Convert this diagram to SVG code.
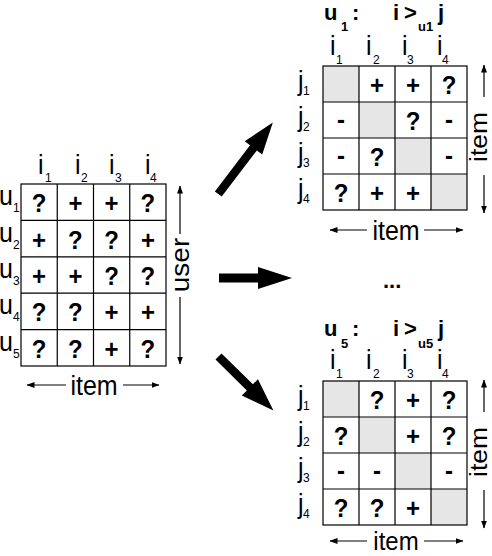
<svg xmlns="http://www.w3.org/2000/svg" width="492" height="556" viewBox="0 0 492 556">
<defs>
<marker id="ah" viewBox="0 0 8 6" refX="7.5" refY="3" markerWidth="8" markerHeight="6" markerUnits="userSpaceOnUse" orient="auto-start-reverse">
<path d="M0,0 L8,3 L0,6 z" fill="#000"/>
</marker>
</defs>
<style>
text{font-family:"Liberation Sans",Arial,Helvetica,sans-serif;fill:#000}
.lb{font-size:25px}
.sb{font-size:12px}
.sy{font-size:24px;font-weight:bold;text-anchor:middle}
.ti{font-size:22px;font-weight:bold}
.ts{font-size:13px;font-weight:bold}
.mid{text-anchor:middle}
.rv{font-size:24px;text-anchor:middle}
.gl{stroke:#000;stroke-width:1.2;fill:none}
.dim{stroke:#000;stroke-width:1.2;fill:none}
.gr{fill:#e6e6e6}
</style>
<rect width="492" height="556" fill="#fff"/>

<!-- Left user-item matrix -->
<g id="user-item-matrix">
<rect class="gl" x="21" y="184" width="145" height="182" fill="#fff"/>
<path class="gl" d="M57.25,184V366M93.5,184V366M129.75,184V366M21,220.4H166M21,256.8H166M21,293.2H166M21,329.6H166"/>
<text class="lb" transform="translate(38,174) scale(1,1.1)">i</text><text class="sb" x="45" y="182">1</text>
<text class="lb" transform="translate(75,174) scale(1,1.1)">i</text><text class="sb" x="81" y="182">2</text>
<text class="lb" transform="translate(109,174) scale(1,1.1)">i</text><text class="sb" x="115" y="182">3</text>
<text class="lb" transform="translate(145,174) scale(1,1.1)">i</text><text class="sb" x="150" y="182">4</text>
<text class="lb" transform="translate(-1,205) scale(1,1.1)">u</text><text class="sb" x="13" y="212">1</text>
<text class="lb" transform="translate(-1,242) scale(1,1.1)">u</text><text class="sb" x="13" y="249">2</text>
<text class="lb" transform="translate(-1,278) scale(1,1.1)">u</text><text class="sb" x="13" y="285">3</text>
<text class="lb" transform="translate(-1,314) scale(1,1.1)">u</text><text class="sb" x="13" y="321">4</text>
<text class="lb" transform="translate(-1,351) scale(1,1.1)">u</text><text class="sb" x="13" y="358">5</text>
<text class="sy" transform="translate(39.1,212) scale(1,1.1)">?</text><text class="sy" transform="translate(75.4,212) scale(1,1.1)">+</text><text class="sy" transform="translate(111.6,212) scale(1,1.1)">+</text><text class="sy" transform="translate(147.9,212) scale(1,1.1)">?</text>
<text class="sy" transform="translate(39.1,248.6) scale(1,1.1)">+</text><text class="sy" transform="translate(75.4,248.6) scale(1,1.1)">?</text><text class="sy" transform="translate(111.6,248.6) scale(1,1.1)">?</text><text class="sy" transform="translate(147.9,248.6) scale(1,1.1)">+</text>
<text class="sy" transform="translate(39.1,285) scale(1,1.1)">+</text><text class="sy" transform="translate(75.4,285) scale(1,1.1)">+</text><text class="sy" transform="translate(111.6,285) scale(1,1.1)">?</text><text class="sy" transform="translate(147.9,285) scale(1,1.1)">?</text>
<text class="sy" transform="translate(39.1,321.4) scale(1,1.1)">?</text><text class="sy" transform="translate(75.4,321.4) scale(1,1.1)">?</text><text class="sy" transform="translate(111.6,321.4) scale(1,1.1)">+</text><text class="sy" transform="translate(147.9,321.4) scale(1,1.1)">+</text>
<text class="sy" transform="translate(39.1,357.8) scale(1,1.1)">?</text><text class="sy" transform="translate(75.4,357.8) scale(1,1.1)">?</text><text class="sy" transform="translate(111.6,357.8) scale(1,1.1)">+</text><text class="sy" transform="translate(147.9,357.8) scale(1,1.1)">?</text>
<line class="dim" x1="180" y1="234" x2="180" y2="186" marker-end="url(#ah)"/>
<line class="dim" x1="180" y1="297" x2="180" y2="364" marker-end="url(#ah)"/>
<text class="lb mid" transform="translate(189,265) rotate(-90) scale(1.12,1)">user</text>
<line class="dim" x1="66" y1="385" x2="27" y2="385" marker-end="url(#ah)"/>
<line class="dim" x1="123" y1="385" x2="159" y2="385" marker-end="url(#ah)"/>
<text class="lb mid" transform="translate(94,395) scale(1,1.1)">item</text>
</g>

<!-- Top right: u1 -->
<g id="u1-matrix">
<text class="ti" x="324" y="20">u</text><text class="ts" x="341" y="31">1</text><text class="ti" x="352" y="20">:</text>
<text class="ti" x="393" y="20">i</text><text class="ti" x="404" y="20">&gt;</text><text class="ts" x="418" y="31">u1</text><text class="ti" x="438" y="20">j</text>
<rect class="gr" x="323" y="66" width="36" height="36"/>
<rect class="gr" x="359" y="102" width="36" height="36"/>
<rect class="gr" x="395" y="138" width="36" height="36"/>
<rect class="gr" x="431" y="174" width="36" height="36"/>
<rect class="gl" x="323" y="66" width="144" height="144"/>
<path class="gl" d="M359,66V210M395,66V210M431,66V210M323,102H467M323,138H467M323,174H467"/>
<text class="lb" transform="translate(330,55) scale(1,1.1)">i</text><text class="sb" x="336" y="64">1</text>
<text class="lb" transform="translate(366,55) scale(1,1.1)">i</text><text class="sb" x="373" y="64">2</text>
<text class="lb" transform="translate(402,55) scale(1,1.1)">i</text><text class="sb" x="407" y="64">3</text>
<text class="lb" transform="translate(437,55) scale(1,1.1)">i</text><text class="sb" x="442" y="64">4</text>
<text class="lb" transform="translate(298,90) scale(1,1.1)">j</text><text class="sb" x="303" y="95">1</text>
<text class="lb" transform="translate(298,126) scale(1,1.1)">j</text><text class="sb" x="303" y="131">2</text>
<text class="lb" transform="translate(298,162) scale(1,1.1)">j</text><text class="sb" x="303" y="167">3</text>
<text class="lb" transform="translate(298,198) scale(1,1.1)">j</text><text class="sb" x="303" y="203">4</text>
<text class="sy" transform="translate(377,94) scale(1,1.1)">+</text><text class="sy" transform="translate(413,94) scale(1,1.1)">+</text><text class="sy" transform="translate(449,94) scale(1,1.1)">?</text>
<text class="sy" transform="translate(341,128) scale(1,1.1)">-</text><text class="sy" transform="translate(413,130) scale(1,1.1)">?</text><text class="sy" transform="translate(449,128) scale(1,1.1)">-</text>
<text class="sy" transform="translate(341,164) scale(1,1.1)">-</text><text class="sy" transform="translate(377,166) scale(1,1.1)">?</text><text class="sy" transform="translate(449,164) scale(1,1.1)">-</text>
<text class="sy" transform="translate(341,202) scale(1,1.1)">?</text><text class="sy" transform="translate(377,202) scale(1,1.1)">+</text><text class="sy" transform="translate(413,202) scale(1,1.1)">+</text>
<line class="dim" x1="484" y1="97" x2="484" y2="65" marker-end="url(#ah)"/>
<line class="dim" x1="484" y1="175" x2="484" y2="213" marker-end="url(#ah)"/>
<text class="rv" transform="translate(486.5,137) rotate(-90) scale(1.1,1)">item</text>
<line class="dim" x1="367" y1="230" x2="330" y2="230" marker-end="url(#ah)"/>
<line class="dim" x1="424" y1="230" x2="463" y2="230" marker-end="url(#ah)"/>
<text class="lb mid" transform="translate(396,240) scale(1,1.1)">item</text>
</g>

<text id="ellipsis" class="ti" x="383" y="288">...</text>

<!-- Bottom right: u5 -->
<g id="u5-matrix">
<text class="ti" x="324" y="336">u</text><text class="ts" x="341" y="348">5</text><text class="ti" x="352" y="336">:</text>
<text class="ti" x="393" y="336">i</text><text class="ti" x="404" y="336">&gt;</text><text class="ts" x="418" y="348">u5</text><text class="ti" x="438" y="336">j</text>
<rect class="gr" x="323" y="381" width="36" height="36"/>
<rect class="gr" x="359" y="417" width="36" height="36"/>
<rect class="gr" x="395" y="453" width="36" height="36"/>
<rect class="gr" x="431" y="489" width="36" height="36"/>
<rect class="gl" x="323" y="381" width="144" height="144"/>
<path class="gl" d="M359,381V525M395,381V525M431,381V525M323,417H467M323,453H467M323,489H467"/>
<text class="lb" transform="translate(330,369) scale(1,1.1)">i</text><text class="sb" x="336" y="378">1</text>
<text class="lb" transform="translate(366,369) scale(1,1.1)">i</text><text class="sb" x="373" y="378">2</text>
<text class="lb" transform="translate(402,369) scale(1,1.1)">i</text><text class="sb" x="407" y="378">3</text>
<text class="lb" transform="translate(437,369) scale(1,1.1)">i</text><text class="sb" x="442" y="378">4</text>
<text class="lb" transform="translate(298,405) scale(1,1.1)">j</text><text class="sb" x="303" y="410">1</text>
<text class="lb" transform="translate(298,441) scale(1,1.1)">j</text><text class="sb" x="303" y="446">2</text>
<text class="lb" transform="translate(298,477) scale(1,1.1)">j</text><text class="sb" x="303" y="482">3</text>
<text class="lb" transform="translate(298,513) scale(1,1.1)">j</text><text class="sb" x="303" y="518">4</text>
<text class="sy" transform="translate(377,409) scale(1,1.1)">?</text><text class="sy" transform="translate(413,409) scale(1,1.1)">+</text><text class="sy" transform="translate(449,409) scale(1,1.1)">?</text>
<text class="sy" transform="translate(341,445) scale(1,1.1)">?</text><text class="sy" transform="translate(413,445) scale(1,1.1)">+</text><text class="sy" transform="translate(449,445) scale(1,1.1)">?</text>
<text class="sy" transform="translate(341,479) scale(1,1.1)">-</text><text class="sy" transform="translate(377,479) scale(1,1.1)">-</text><text class="sy" transform="translate(449,479) scale(1,1.1)">-</text>
<text class="sy" transform="translate(341,517) scale(1,1.1)">?</text><text class="sy" transform="translate(377,517) scale(1,1.1)">?</text><text class="sy" transform="translate(413,517) scale(1,1.1)">+</text>
<line class="dim" x1="484" y1="412" x2="484" y2="380" marker-end="url(#ah)"/>
<line class="dim" x1="484" y1="490" x2="484" y2="528" marker-end="url(#ah)"/>
<text class="rv" transform="translate(486.5,452) rotate(-90) scale(1.1,1)">item</text>
<line class="dim" x1="367" y1="541" x2="330" y2="541" marker-end="url(#ah)"/>
<line class="dim" x1="424" y1="541" x2="463" y2="541" marker-end="url(#ah)"/>
<text class="rv" transform="translate(396,549.5) scale(1,1.1)">item</text>
</g>

<!-- Connectors -->
<g id="connectors" fill="#000">
<polygon transform="translate(218.3,194) rotate(-52.7)" points="0,-4.3 58,-4.3 58,-11 90,0 58,11 58,4.3 0,4.3"/>
<polygon transform="translate(219,278)" points="0,-4.6 39,-4.6 39,-11 73,0 39,11 39,4.6 0,4.6"/>
<polygon transform="translate(218.5,356.5) rotate(44.5)" points="0,-4.3 44,-4.3 44,-11.5 77,0 44,11.5 44,4.3 0,4.3"/>
</g>
</svg>
